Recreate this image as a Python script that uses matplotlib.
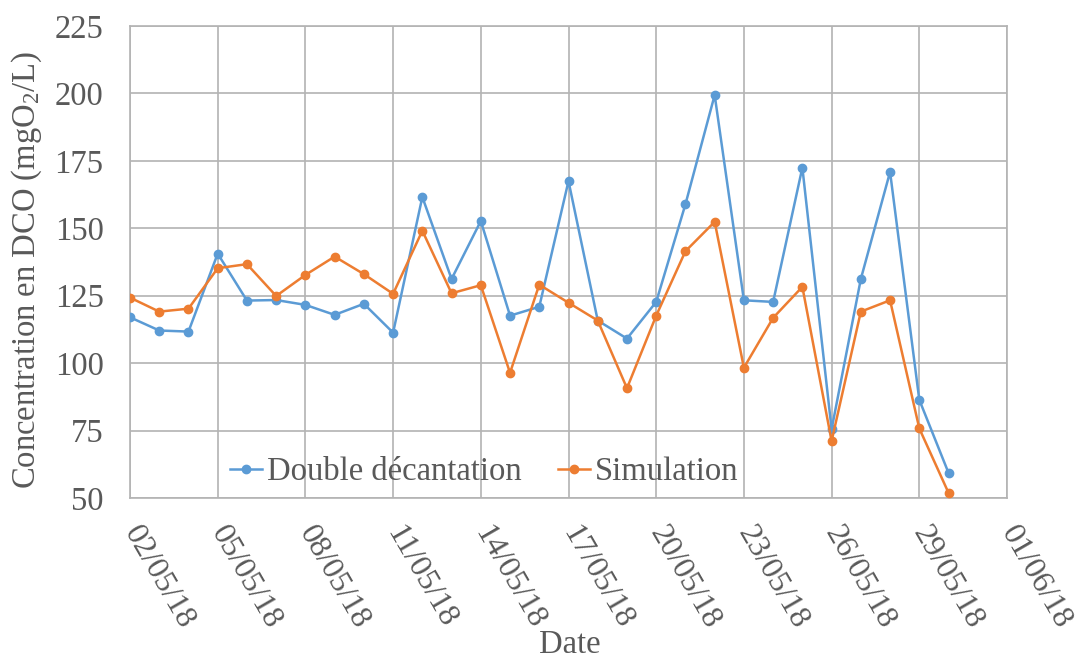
import matplotlib
matplotlib.use("Agg")
import matplotlib.pyplot as plt
import pandas as pd

dates = pd.date_range("2018-05-02", "2018-05-30", freq="D")
double_decantation = [117.0, 112.1, 111.7, 140.6, 123.2, 123.4, 121.6, 117.9, 122.0, 111.3,
                      161.6, 131.2, 152.7, 117.6, 120.9, 167.5, 115.8, 109.1, 122.7, 158.9,
                      199.4, 123.3, 122.7, 172.5, 75.5, 131.2, 170.9, 86.4, 59.3]
simulation = [124.3, 119.1, 120.2, 135.2, 136.7, 124.9, 132.7, 139.5, 133.0, 125.7,
              149.1, 125.9, 128.9, 96.4, 129.1, 122.4, 115.8, 90.7, 117.6, 141.5,
              152.4, 98.3, 116.8, 128.3, 71.1, 119.1, 123.3, 75.8, 51.9]
tick_dates = pd.date_range("2018-05-02", "2018-06-01", freq="3D")
tick_labels = [d.strftime("%d/%m/%y") for d in tick_dates]
y_ticks = [50, 75, 100, 125, 150, 175, 200, 225]

plt.rcParams['font.family'] = ['Liberation Serif', 'DejaVu Serif']
plt.rcParams['mathtext.fontset'] = 'custom'
plt.rcParams['mathtext.rm'] = 'Liberation Serif'
plt.rcParams['mathtext.it'] = 'Liberation Serif:italic'

FS = 23.5
text_color = '#595959'
grid_color = '#B3B3B3'

fig = plt.figure(figsize=(10.75, 6.61), dpi=100)
ax = fig.add_axes([130/1075, 1-498/661, (1007-130)/1075, (498-26)/661])

ax.plot(dates, double_decantation, color='#5B9BD5', lw=1.8, marker='o', ms=6,
        label='Double décantation', zorder=3)
ax.plot(dates, simulation, color='#ED7D31', lw=1.8, marker='o', ms=6,
        label='Simulation', zorder=3)

ax.set_xlim(tick_dates[0], tick_dates[-1])
ax.set_ylim(50, 225)
ax.set_yticks(y_ticks)
ax.set_xticks(tick_dates)
ax.set_xticklabels(tick_labels, rotation=-60, ha='left', va='center',
                   rotation_mode='anchor')
ax.tick_params(axis='both', length=0, labelsize=FS, labelcolor=text_color)
ax.tick_params(axis='x', labelsize=23, pad=22)
ax.tick_params(axis='y', pad=19)

ax.grid(True, color=grid_color, lw=1.2)
ax.set_axisbelow(True)
for s in ax.spines.values():
    s.set_color(grid_color)
    s.set_linewidth(1.2)

ax.set_ylabel(r'Concentration en DCO (mgO$_2$/L)', fontsize=FS, color=text_color)
ax.yaxis.label.set_va('center')
ax.yaxis.set_label_coords(-(130-27)/877, (498-270)/472)
ax.set_xlabel('Date', fontsize=FS, color=text_color)
ax.xaxis.label.set_va('center')
ax.xaxis.set_label_coords((570-130)/877, -(645-498)/472)

leg = ax.legend(loc='center', bbox_to_anchor=(0.404, 0.055), ncol=2, frameon=False,
                fontsize=FS, handlelength=1.0, handletextpad=0.15, columnspacing=1.1,
                borderpad=0, borderaxespad=0)
for t in leg.get_texts():
    t.set_color(text_color)

fig.savefig('out.png', dpi=100)
